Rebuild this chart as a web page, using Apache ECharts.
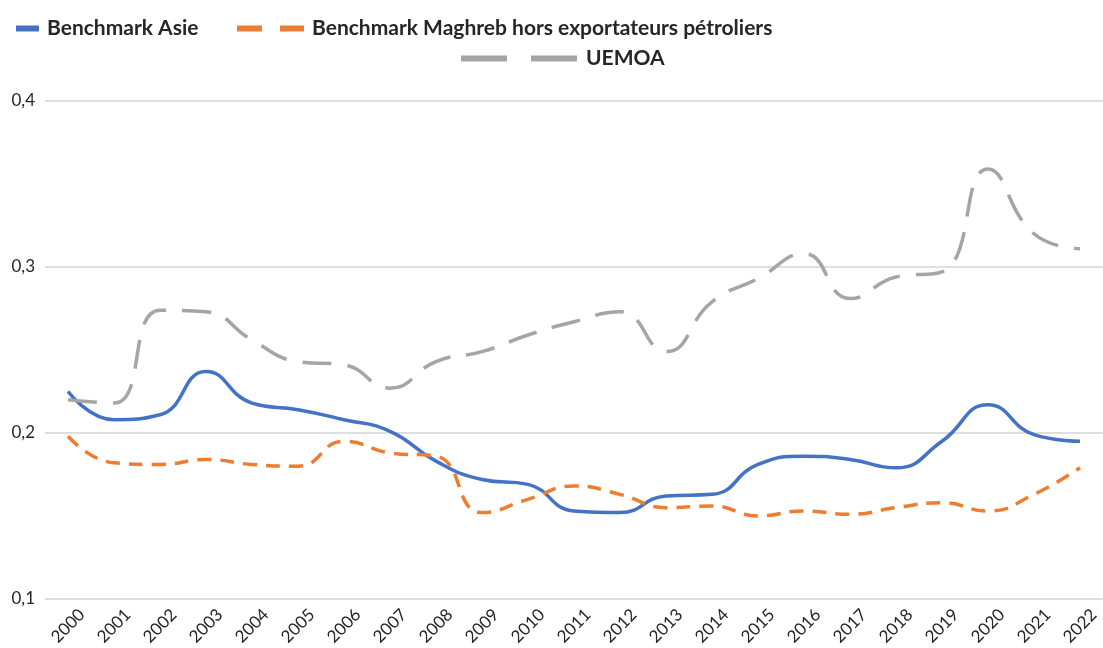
<!DOCTYPE html>
<html>
<head>
<meta charset="utf-8">
<script src="https://cdn.jsdelivr.net/npm/echarts@6.0.0/dist/echarts.min.js"></script>
<style>
  html, body { margin: 0; padding: 0; background: #fff; }
  #chart { width: 1103px; height: 648px; }
</style>
</head>
<body>
<div id="chart"></div>
<script>
// données
var years = ["2000", "2001", "2002", "2003", "2004", "2005", "2006", "2007", "2008", "2009", "2010",
  "2011", "2012", "2013", "2014", "2015", "2016", "2017", "2018", "2019", "2020", "2021", "2022"];

var asie = [0.225, 0.208, 0.211, 0.237, 0.218, 0.214, 0.208, 0.201, 0.183, 0.172, 0.169,
  0.153, 0.152, 0.162, 0.163, 0.181, 0.186, 0.184, 0.179, 0.195, 0.217, 0.199, 0.195];

var maghreb = [0.198, 0.182, 0.181, 0.184, 0.181, 0.180, 0.195, 0.188, 0.186, 0.152, 0.160,
  0.168, 0.163, 0.155, 0.156, 0.150, 0.153, 0.151, 0.155, 0.158, 0.153, 0.163, 0.179];

var uemoa = [0.220, 0.218, 0.274, 0.273, 0.256, 0.243, 0.241, 0.227, 0.243, 0.249, 0.259,
  0.267, 0.273, 0.249, 0.279, 0.293, 0.308, 0.281, 0.294, 0.297, 0.359, 0.320, 0.311];

var yTicks = [0.1, 0.2, 0.3, 0.4];
var yTickLabels = ["0,1", "0,2", "0,3", "0,4"];

var names = ["Benchmark Asie", "Benchmark Maghreb hors exportateurs pétroliers", "UEMOA"];

var chart = echarts.init(document.getElementById("chart"));

var legendText = {
  fontFamily: "Lato",
  fontWeight: "bold",
  fontSize: 21,
  color: "#262626",
  padding: [0, 0, 0, 3]
};

var option = {
  animation: false,
  legend: [
    {
      data: [names[0]],
      left: 8, top: 13,
      itemWidth: 23, itemHeight: 20,
      lineStyle: { width: 6 },
      itemStyle: { opacity: 0 },
      textStyle: legendText
    },
    {
      data: [names[1]],
      left: 229, top: 13,
      itemWidth: 67, itemHeight: 20,
      lineStyle: { width: 6, type: [25, 18] },
      itemStyle: { opacity: 0 },
      textStyle: legendText
    },
    {
      data: [names[2]],
      left: 453, top: 43,
      itemWidth: 117, itemHeight: 20,
      lineStyle: { width: 6, type: [46, 24] },
      itemStyle: { opacity: 0 },
      textStyle: legendText
    }
  ],
  grid: { left: 45, right: -10, top: 101, bottom: 46 },
  xAxis: {
    type: "category",
    data: years,
    boundaryGap: true,
    axisLine: { show: false },
    axisTick: { show: false },
    axisLabel: {
      rotate: 45,
      align: "center",
      verticalAlign: "middle",
      margin: 27,
      fontFamily: "Lato",
      fontSize: 17,
      color: "#262626"
    }
  },
  yAxis: {
    type: "value",
    min: yTicks[0],
    max: yTicks[yTicks.length - 1],
    interval: 0.1,
    axisLine: { show: false },
    axisTick: { show: false },
    axisLabel: {
      margin: 10,
      fontFamily: "Lato",
      fontSize: 17,
      color: "#262626",
      formatter: function (v) {
        var i = yTicks.findIndex(function (t) { return Math.abs(t - v) < 1e-9; });
        return i >= 0 ? yTickLabels[i] : "";
      }
    },
    splitLine: { lineStyle: { color: "#d4d4d4", width: 1.5 } }
  },
  series: [
    {
      name: names[0],
      type: "line",
      data: asie,
      smooth: 0.5,
      symbol: "none",
      lineStyle: { color: "#4472C4", width: 3.5 },
      itemStyle: { color: "#4472C4" }
    },
    {
      name: names[1],
      type: "line",
      data: maghreb,
      smooth: 0.5,
      symbol: "none",
      lineStyle: { color: "#ED7D31", width: 3.5, type: [14, 9] },
      itemStyle: { color: "#ED7D31" }
    },
    {
      name: names[2],
      type: "line",
      data: uemoa,
      smooth: 0.5,
      symbol: "none",
      lineStyle: { color: "#A5A5A5", width: 3.5, type: [29, 16] },
      itemStyle: { color: "#A5A5A5" }
    }
  ]
};

chart.setOption(option);
</script>
</body>
</html>
